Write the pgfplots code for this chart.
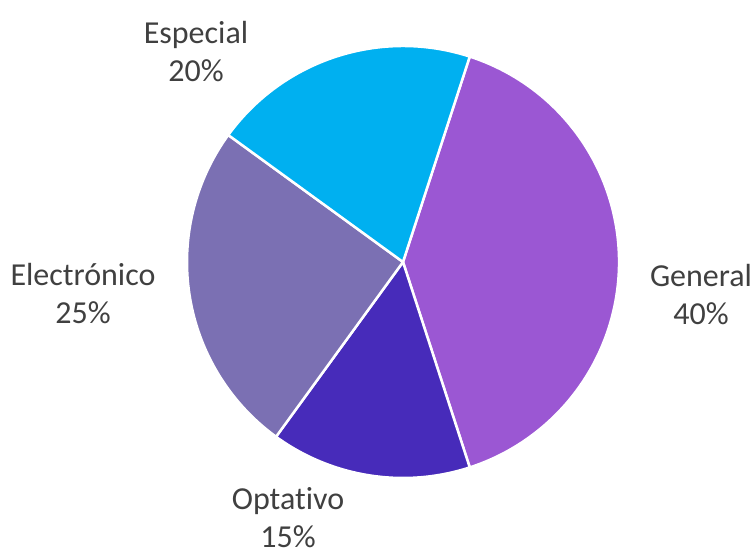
\documentclass[border=0pt]{standalone}
\usepackage{pgfplots}
\pgfplotsset{compat=1.18}
\usepackage{pgfplotstable}
\usepackage{fontspec}
\setmainfont[Ligatures=NoCommon]{Carlito}

\definecolor{cGeneral}{HTML}{9B57D3}
\definecolor{cOptativo}{HTML}{472BBA}
\definecolor{cElectronico}{HTML}{7B70B3}
\definecolor{cEspecial}{HTML}{00B0F0}
\definecolor{lbl}{HTML}{404040}

% slices in clockwise order, starting at 72 degrees
\pgfplotstableread[col sep=comma]{
name,value,color
General,40,cGeneral
Optativo,15,cOptativo
Electronico,25,cElectronico
Especial,20,cEspecial
}\piedata

\tikzset{pielabel/.style={align=center, text=lbl, inner sep=0pt,
    font=\fontsize{32bp}{38bp}\selectfont}}

\begin{document}
\begin{tikzpicture}
\begin{axis}[
    x=1bp, y=1bp,
    xmin=-403, xmax=351, ymin=-295, ymax=262,
    hide axis, clip=false,
]
    % fix the picture's extent to the reference frame
    \path (axis cs:-403,-295) rectangle (axis cs:351,262);

    \pgfplotstablegetrowsof{\piedata}
    \pgfmathtruncatemacro\nrows{\pgfplotsretval-1}
    \def\angA{72}
    \pgfplotsforeachungrouped \i in {0,...,\nrows}{
        \pgfplotstablegetelem{\i}{value}\of\piedata \let\v\pgfplotsretval
        \pgfplotstablegetelem{\i}{color}\of\piedata \let\c\pgfplotsretval
        \pgfmathsetmacro\angB{\angA-3.6*\v}
        \edef\tmp{\noexpand\fill[\c, draw=white, line width=2.5bp, line join=round]
            (axis cs:0,0) -- (axis cs:{216*cos(\angA)},{216*sin(\angA)})
            arc[start angle=\angA, end angle=\angB, radius=216bp] -- cycle;}
        \tmp
        \let\angA\angB
    }

    \node[pielabel] at (axis cs:298,-33) {General\\40\%};
    \node[pielabel] at (axis cs:-115,-256) {Optativo\\15\%};
    \node[pielabel] at (axis cs:-320,-32) {Electrónico\\25\%};
    \node[pielabel] at (axis cs:-207,210) {Especial\\20\%};
\end{axis}
\end{tikzpicture}
\end{document}
